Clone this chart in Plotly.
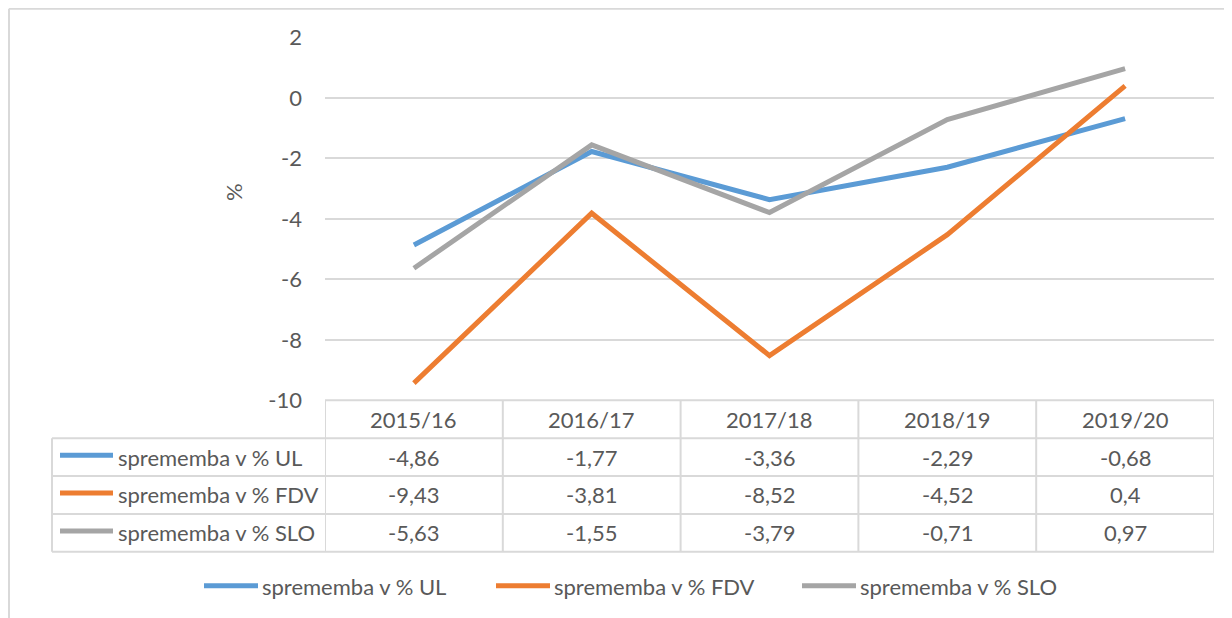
import plotly.graph_objects as go

# ── Data ─────────────────────────────────────────────────────────────────────
years = ["2015/16", "2016/17", "2017/18", "2018/19", "2019/20"]
names = ["sprememba v % UL", "sprememba v % FDV", "sprememba v % SLO"]
ul = [-4.86, -1.77, -3.36, -2.29, -0.68]
fdv = [-9.43, -3.81, -8.52, -4.52, 0.4]
slo = [-5.63, -1.55, -3.79, -0.71, 0.97]
y_ticks = [-10, -8, -6, -4, -2, 0, 2]
y_ticktext = ["-10", "-8", "-6", "-4", "-2", "0", "2"]

colors = ["#5B9BD5", "#ED7D31", "#A5A5A5"]
series = [ul, fdv, slo]

W, H = 1232, 618
TXT = "#595959"
GRID = "#D9D9D9"
FONT = "Lato, Inter, sans-serif"
FS = 22

# page offset / effective drawing height as observed in the rendered page
OX, OY, EH = 8, 20.4, 593.0


def px(x):
    return (x - OX) / W


def py(y):
    return 1 - (y - OY) / EH


def fmt(v):
    return ("%g" % v).replace(".", ",")


fig = go.Figure()
for name, vals, c in zip(names, series, colors):
    fig.add_trace(go.Scatter(x=years, y=vals, name=name, mode="lines",
                             line=dict(color=c, width=5), showlegend=False))

shapes = []
annotations = []

# outer chart border (left + top)
shapes.append(dict(type="line", xref="paper", yref="paper",
                   x0=px(9), x1=px(9), y0=py(7), y1=py(H + 5),
                   line=dict(color=GRID, width=2)))
shapes.append(dict(type="line", xref="paper", yref="paper",
                   x0=px(9), x1=px(W + 5), y0=py(7), y1=py(7),
                   line=dict(color=GRID, width=2)))

# data table grid
row_y = [400, 438, 476, 514, 552]
tab_left, tab_right = 52, 1214
shapes.append(dict(type="line", xref="paper", yref="paper",
                   x0=px(325), x1=px(tab_right), y0=py(row_y[0]), y1=py(row_y[0]),
                   line=dict(color=GRID, width=2)))
for ry in row_y[1:]:
    shapes.append(dict(type="line", xref="paper", yref="paper",
                       x0=px(tab_left), x1=px(tab_right), y0=py(ry), y1=py(ry),
                       line=dict(color=GRID, width=2)))
shapes.append(dict(type="line", xref="paper", yref="paper",
                   x0=px(tab_left), x1=px(tab_left), y0=py(row_y[1]), y1=py(row_y[-1]),
                   line=dict(color=GRID, width=2)))
for i in range(len(years) + 1):
    shapes.append(dict(type="line", xref="x", yref="paper",
                       x0=i - 0.5, x1=i - 0.5, y0=py(row_y[0]), y1=py(row_y[-1]),
                       line=dict(color=GRID, width=2)))

# header row
for yr in years:
    annotations.append(dict(x=yr, xref="x", y=py((row_y[0] + row_y[1]) / 2), yref="paper",
                            text=yr, showarrow=False, xanchor="center", yanchor="middle",
                            font=dict(size=FS, color=TXT, family=FONT)))

# series rows
for r, (name, vals, c) in enumerate(zip(names, series, colors)):
    yc = (row_y[r + 1] + row_y[r + 2]) / 2
    shapes.append(dict(type="line", xref="paper", yref="paper",
                       x0=px(60), x1=px(113), y0=py(yc - 2), y1=py(yc - 2),
                       line=dict(color=c, width=5)))
    annotations.append(dict(x=px(116), xref="paper", y=py(yc), yref="paper",
                            text=name, showarrow=False, xanchor="left", yanchor="middle",
                            font=dict(size=FS, color=TXT, family=FONT)))
    for yr, v in zip(years, vals):
        annotations.append(dict(x=yr, xref="x", y=py(yc), yref="paper",
                                text=fmt(v), showarrow=False, xanchor="center",
                                yanchor="middle",
                                font=dict(size=FS, color=TXT, family=FONT)))

# bottom legend
leg_x = [204, 496, 802]
for lx, name, c in zip(leg_x, names, colors):
    shapes.append(dict(type="line", xref="paper", yref="paper",
                       x0=px(lx), x1=px(lx + 54), y0=py(586), y1=py(586),
                       line=dict(color=c, width=5)))
    annotations.append(dict(x=px(lx + 56), xref="paper", y=py(587), yref="paper",
                            text=name, showarrow=False, xanchor="left", yanchor="middle",
                            font=dict(size=FS, color=TXT, family=FONT)))

# y axis title
annotations.append(dict(x=px(233), xref="paper", y=py(191), yref="paper",
                        text="%", textangle=-90, showarrow=False,
                        xanchor="center", yanchor="middle",
                        font=dict(size=FS, color=TXT, family=FONT)))

fig.update_layout(
    width=W, height=H,
    margin=dict(l=0, r=0, t=0, b=0),
    paper_bgcolor="white",
    plot_bgcolor="white",
    font=dict(family=FONT, color=TXT, size=FS),
    xaxis=dict(
        domain=[px(325), px(1214)],
        type="category",
        range=[-0.5, len(years) - 0.5],
        showticklabels=False,
        showgrid=False,
        zeroline=False,
        showline=False,
        fixedrange=True,
    ),
    yaxis=dict(
        domain=[py(400), py(36)],
        range=[-10, 2],
        tickvals=y_ticks,
        ticktext=y_ticktext,
        showgrid=True,
        gridcolor=GRID,
        gridwidth=2,
        zeroline=False,
        showline=False,
        ticklabelstandoff=22,
        tickfont=dict(size=FS, color=TXT, family=FONT),
    ),
    shapes=shapes,
    annotations=annotations,
    showlegend=False,
)

fig.write_html("out.html")
